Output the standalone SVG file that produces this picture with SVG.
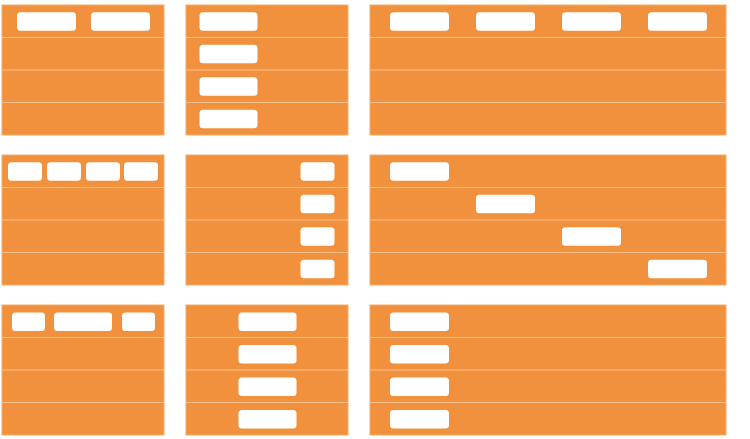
<svg xmlns="http://www.w3.org/2000/svg" width="750" height="439" viewBox="0 0 750 439">
<defs>
<style>
.panel{fill:#F2913D;stroke:#F5AC68;stroke-width:1}
.sep{stroke:#F8C18C;stroke-width:1.2;fill:none}
.box{fill:#FFFFFF}
</style>
<g id="rows">
<rect class="panel" x="0" y="0" width="162" height="130"/>
<line class="sep" x1="0" y1="32.5" x2="162" y2="32.5"/>
<line class="sep" x1="0" y1="65" x2="162" y2="65"/>
<line class="sep" x1="0" y1="97.5" x2="162" y2="97.5"/>
</g>
<g id="rowsWide">
<rect class="panel" x="0" y="0" width="356" height="130"/>
<line class="sep" x1="0" y1="32.5" x2="356" y2="32.5"/>
<line class="sep" x1="0" y1="65" x2="356" y2="65"/>
<line class="sep" x1="0" y1="97.5" x2="356" y2="97.5"/>
</g>
</defs>
<rect width="750" height="439" fill="#FFFFFF"/>

<g id="panel-a1">
<use href="#rows" x="2" y="5"/>
<rect class="box" x="17" y="12.3" width="59" height="18.5" rx="3.5"/>
<rect class="box" x="91" y="12.3" width="59" height="18.5" rx="3.5"/>
</g>
<g id="panel-a2">
<use href="#rows" x="186" y="5"/>
<rect class="box" x="199.5" y="12.3" width="58" height="18.5" rx="3.5"/>
<rect class="box" x="199.5" y="44.8" width="58" height="18.5" rx="3.5"/>
<rect class="box" x="199.5" y="77.3" width="58" height="18.5" rx="3.5"/>
<rect class="box" x="199.5" y="109.8" width="58" height="18.5" rx="3.5"/>
</g>
<g id="panel-a3">
<use href="#rowsWide" x="370" y="5"/>
<rect class="box" x="390" y="12.3" width="59" height="18.5" rx="3.5"/>
<rect class="box" x="476" y="12.3" width="59" height="18.5" rx="3.5"/>
<rect class="box" x="562" y="12.3" width="59" height="18.5" rx="3.5"/>
<rect class="box" x="648" y="12.3" width="59" height="18.5" rx="3.5"/>
</g>

<g id="panel-b1">
<use href="#rows" x="2" y="155"/>
<rect class="box" x="8" y="162.3" width="34" height="18.5" rx="3.5"/>
<rect class="box" x="47" y="162.3" width="34" height="18.5" rx="3.5"/>
<rect class="box" x="86" y="162.3" width="34" height="18.5" rx="3.5"/>
<rect class="box" x="124" y="162.3" width="34" height="18.5" rx="3.5"/>
</g>
<g id="panel-b2">
<use href="#rows" x="186" y="155"/>
<rect class="box" x="300.5" y="162.3" width="34" height="18.5" rx="3.5"/>
<rect class="box" x="300.5" y="194.8" width="34" height="18.5" rx="3.5"/>
<rect class="box" x="300.5" y="227.3" width="34" height="18.5" rx="3.5"/>
<rect class="box" x="300.5" y="259.8" width="34" height="18.5" rx="3.5"/>
</g>
<g id="panel-b3">
<use href="#rowsWide" x="370" y="155"/>
<rect class="box" x="390" y="162.3" width="59" height="18.5" rx="3.5"/>
<rect class="box" x="476" y="194.8" width="59" height="18.5" rx="3.5"/>
<rect class="box" x="562" y="227.3" width="59" height="18.5" rx="3.5"/>
<rect class="box" x="648" y="259.8" width="59" height="18.5" rx="3.5"/>
</g>

<g id="panel-c1">
<use href="#rows" x="2" y="305"/>
<rect class="box" x="12" y="312.5" width="33" height="18.5" rx="3.5"/>
<rect class="box" x="54" y="312.5" width="58" height="18.5" rx="3.5"/>
<rect class="box" x="122" y="312.5" width="33" height="18.5" rx="3.5"/>
</g>
<g id="panel-c2">
<use href="#rows" x="186" y="305"/>
<rect class="box" x="238.5" y="312.5" width="58" height="18.5" rx="3.5"/>
<rect class="box" x="238.5" y="345" width="58" height="18.5" rx="3.5"/>
<rect class="box" x="238.5" y="377.5" width="58" height="18.5" rx="3.5"/>
<rect class="box" x="238.5" y="410" width="58" height="18.5" rx="3.5"/>
</g>
<g id="panel-c3">
<use href="#rowsWide" x="370" y="305"/>
<rect class="box" x="390" y="312.5" width="59" height="18.5" rx="3.5"/>
<rect class="box" x="390" y="345" width="59" height="18.5" rx="3.5"/>
<rect class="box" x="390" y="377.5" width="59" height="18.5" rx="3.5"/>
<rect class="box" x="390" y="410" width="59" height="18.5" rx="3.5"/>
</g>
<g id="connectors"/>
</svg>
